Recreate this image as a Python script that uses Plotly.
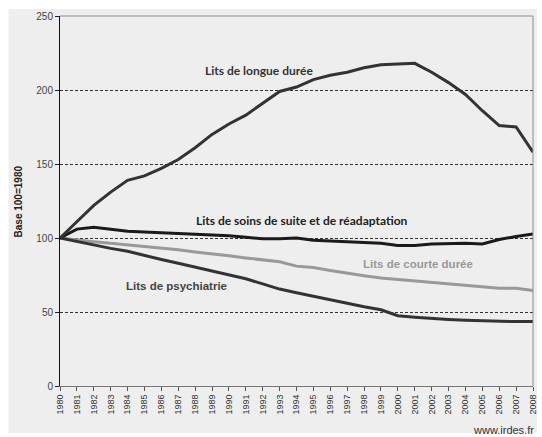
import plotly.graph_objects as go

years = list(range(1980, 2009))
longue = [100, 111, 122, 131, 139, 142, 147, 153, 161, 170, 177, 183, 191, 199, 202, 207, 210, 212, 215, 217, 217.5, 218, 212, 205, 197, 186, 176, 175, 158]
ssr = [100, 106, 107.3, 106, 104.5, 104, 103.5, 103, 103, 102, 101.5, 100.5, 99.5, 99.5, 100, 98.5, 98, 97.5, 97.5, 96.5, 95, 95, 96, 96.5, 96.5, 96, 99, 101, 102.7]
courte = [100, 98.5, 97.5, 96.5, 95.5, 94, 93, 92, 90.5, 89.5, 88, 86.5, 85, 84, 81, 80, 78, 76, 74.5, 73, 72, 71, 70, 68.5, 67.5, 67, 66, 66, 64.5]
psy = [100, 97.5, 95, 93, 91, 88, 85.5, 83, 80.5, 78, 75, 72.5, 69, 65.5, 63, 60.5, 58, 56, 53.5, 51.5, 47.5, 46.5, 45.5, 45, 44.5, 44, 44, 43.5, 43.5]

yticks = [0, 50, 100, 150, 200, 250]

fig = go.Figure()
fig.add_trace(go.Scatter(x=years, y=courte, mode="lines", line=dict(color="#999999", width=3)))
fig.add_trace(go.Scatter(x=years, y=psy, mode="lines", line=dict(color="#333333", width=3)))
fig.add_trace(go.Scatter(x=years, y=ssr, mode="lines", line=dict(color="#1a1a1a", width=3)))
fig.add_trace(go.Scatter(x=years, y=longue, mode="lines", line=dict(color="#333333", width=3)))

L, R, T, B = 60, 4, 16, 51
W, H = 542, 437
pw, ph = W - L - R, H - T - B

def px(xp):
    return (xp - L) / pw

def py(yp):
    return (H - B - yp) / ph

grey = "#eeeeee"
SANS = "Liberation Sans, Arial"
fig.update_layout(
    width=W, height=H,
    margin=dict(l=L, r=R, t=T, b=B),
    paper_bgcolor="white",
    plot_bgcolor=grey,
    showlegend=False,
    font=dict(family=SANS, size=10, color="#333333"),
    shapes=[
        dict(type="rect", xref="paper", yref="paper", x0=px(8), x1=px(542), y0=py(433), y1=py(9),
             fillcolor=grey, line=dict(width=0), layer="below"),
        dict(type="line", xref="paper", yref="paper", x0=0, x1=1, y0=1, y1=1,
             line=dict(color="#8c8c8c", width=1), layer="above"),
        dict(type="line", xref="paper", yref="paper", x0=1, x1=1, y0=0, y1=1,
             line=dict(color="#8c8c8c", width=1), layer="above"),
    ],
)
fig.update_xaxes(
    range=[1980, 2008], tickmode="array", tickvals=years, ticktext=[str(y) for y in years],
    tickangle=-90, ticks="outside", ticklen=4, tickcolor="#555555",
    showline=True, linecolor="#777777", linewidth=1, showgrid=False, zeroline=False,
    ticklabeloverflow="allow",
    tickfont=dict(family=SANS, size=9, color="#333333"),
)
fig.update_yaxes(
    range=[0, 250], tickvals=yticks, ticks="outside", ticklen=4, tickcolor="#222222",
    showline=True, linecolor="#111111", linewidth=1,
    showgrid=True, gridcolor="#333333", gridwidth=1, griddash="3px,2px", zeroline=False,
    tickfont=dict(family=SANS, size=10, color="#444444"),
)

anns = [
    dict(x=1991.8, y=213, text="Lits de longue durée", font=dict(family="Lato", size=12, color="#333333", weight="bold")),
    dict(x=1994.3, y=111.5, text="Lits de soins de suite et de réadaptation", font=dict(family="Lato", size=12, color="#222222", weight="bold")),
    dict(x=2001.2, y=82.4, text="Lits de courte durée", font=dict(family=SANS, size=11.5, color="#999999", weight="bold")),
    dict(x=1986.9, y=67.6, text="Lits de psychiatrie", font=dict(family=SANS, size=11.5, color="#444444", weight="bold")),
]
for a in anns:
    fig.add_annotation(xref="x", yref="y", showarrow=False, xanchor="center", yanchor="middle", **a)

fig.add_annotation(xref="paper", yref="paper", x=px(18), y=py(201), text="<b>Base 100=1980</b>",
                   textangle=-90, showarrow=False, xanchor="center", yanchor="middle",
                   font=dict(family=SANS, size=10, color="#222222"))
fig.add_annotation(xref="paper", yref="paper", x=px(541), y=py(430), text="www.irdes.fr",
                   showarrow=False, xanchor="right", yanchor="middle",
                   font=dict(family=SANS, size=11, color="#333333"))

fig.write_html("out.html", config={"displayModeBar": False},
               post_script="document.body.style.margin='0';document.body.style.overflow='hidden';")
